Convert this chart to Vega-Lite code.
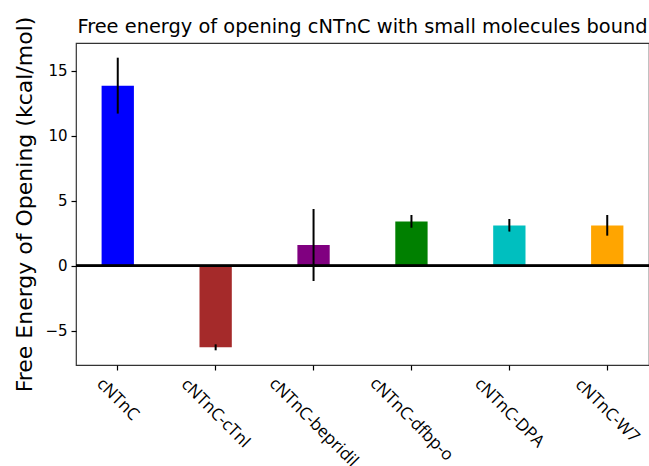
{
  "$schema": "https://vega.github.io/schema/vega-lite/v6.json",
  "width": 573,
  "height": 322,
  "autosize": {"type": "none"},
  "padding": {"left": 76, "top": 43, "right": 0, "bottom": 101},
  "background": "white",
  "title": {
    "text": "Free energy of opening cNTnC with small molecules bound",
    "font": "DejaVu Sans",
    "fontSize": 19.4,
    "fontWeight": "normal",
    "color": "black",
    "anchor": "middle",
    "baseline": "alphabetic",
    "offset": 10,
    "dy": 46
  },
  "config": {
    "view": {"stroke": "#333333", "strokeWidth": 1.2},
    "axis": {"grid": false, "domain": false}
  },
  "data": {
    "values": [
      {"label": "cNTnC", "value": 13.85, "lo": 11.7, "hi": 16.0},
      {"label": "cNTnC-cTnI", "value": -6.28, "lo": -6.51, "hi": -6.05},
      {"label": "cNTnC-bepridil", "value": 1.59, "lo": -1.18, "hi": 4.36},
      {"label": "cNTnC-dfbp-o", "value": 3.4, "lo": 2.92, "hi": 3.9},
      {"label": "cNTnC-DPA", "value": 3.1, "lo": 2.62, "hi": 3.59},
      {"label": "cNTnC-W7", "value": 3.1, "lo": 2.31, "hi": 3.9}
    ]
  },
  "layer": [
    {
      "mark": {"type": "bar"},
      "encoding": {
        "x": {
          "field": "label",
          "type": "nominal",
          "sort": null,
          "scale": {"paddingInner": 0.67, "paddingOuter": 0.2615},
          "axis": {
            "title": null,
            "labelAngle": 45,
            "labelAlign": "center",
            "labelBaseline": "middle",
            "labelFont": "Open Sans",
            "labelFontSize": 17,
            "labelColor": "black",
            "labelOverlap": false,
            "labelBound": false,
            "labelFlush": false,
            "tickColor": "black",
            "tickSize": 5,
            "tickWidth": 1.2,
            "labelPadding": {
              "condition": [
                {"test": "datum.value === 'cNTnC'", "value": 29},
                {"test": "datum.value === 'cNTnC-cTnI'", "value": 43},
                {"test": "datum.value === 'cNTnC-bepridil'", "value": 52},
                {"test": "datum.value === 'cNTnC-dfbp-o'", "value": 49},
                {"test": "datum.value === 'cNTnC-DPA'", "value": 42.5}
              ],
              "value": 40.5
            }
          }
        },
        "y": {
          "field": "value",
          "type": "quantitative",
          "scale": {"domain": [-7.64, 17.13], "nice": false, "zero": false},
          "axis": {
            "values": [-5, 0, 5, 10, 15],
            "title": "Free Energy of Opening (kcal/mol)",
            "titleFont": "DejaVu Sans",
            "titleFontSize": 22,
            "titleFontWeight": "normal",
            "titleColor": "black",
            "titleAngle": -90,
            "titleAlign": "center",
            "titleBaseline": "alphabetic",
            "titleX": -44.5,
            "titleY": 161,
            "labelFont": "DejaVu Sans",
            "labelFontSize": 15,
            "labelColor": "black",
            "labelPadding": 4,
            "tickColor": "black",
            "tickSize": 5,
            "tickWidth": 1.2
          }
        },
        "y2": {"datum": 0},
        "color": {
          "field": "label",
          "type": "nominal",
          "sort": null,
          "scale": {
            "domain": ["cNTnC", "cNTnC-cTnI", "cNTnC-bepridil", "cNTnC-dfbp-o", "cNTnC-DPA", "cNTnC-W7"],
            "range": ["#0000ff", "#a52a2a", "#800080", "#008000", "#00bfbf", "#ffa500"]
          },
          "legend": null
        }
      }
    },
    {
      "mark": {"type": "rule", "color": "black", "strokeWidth": 2},
      "encoding": {"y": {"datum": 0}}
    },
    {
      "mark": {"type": "rule", "color": "black", "strokeWidth": 2},
      "encoding": {
        "x": {"field": "label", "type": "nominal", "sort": null},
        "y": {"field": "lo", "type": "quantitative"},
        "y2": {"field": "hi"}
      }
    }
  ]
}
